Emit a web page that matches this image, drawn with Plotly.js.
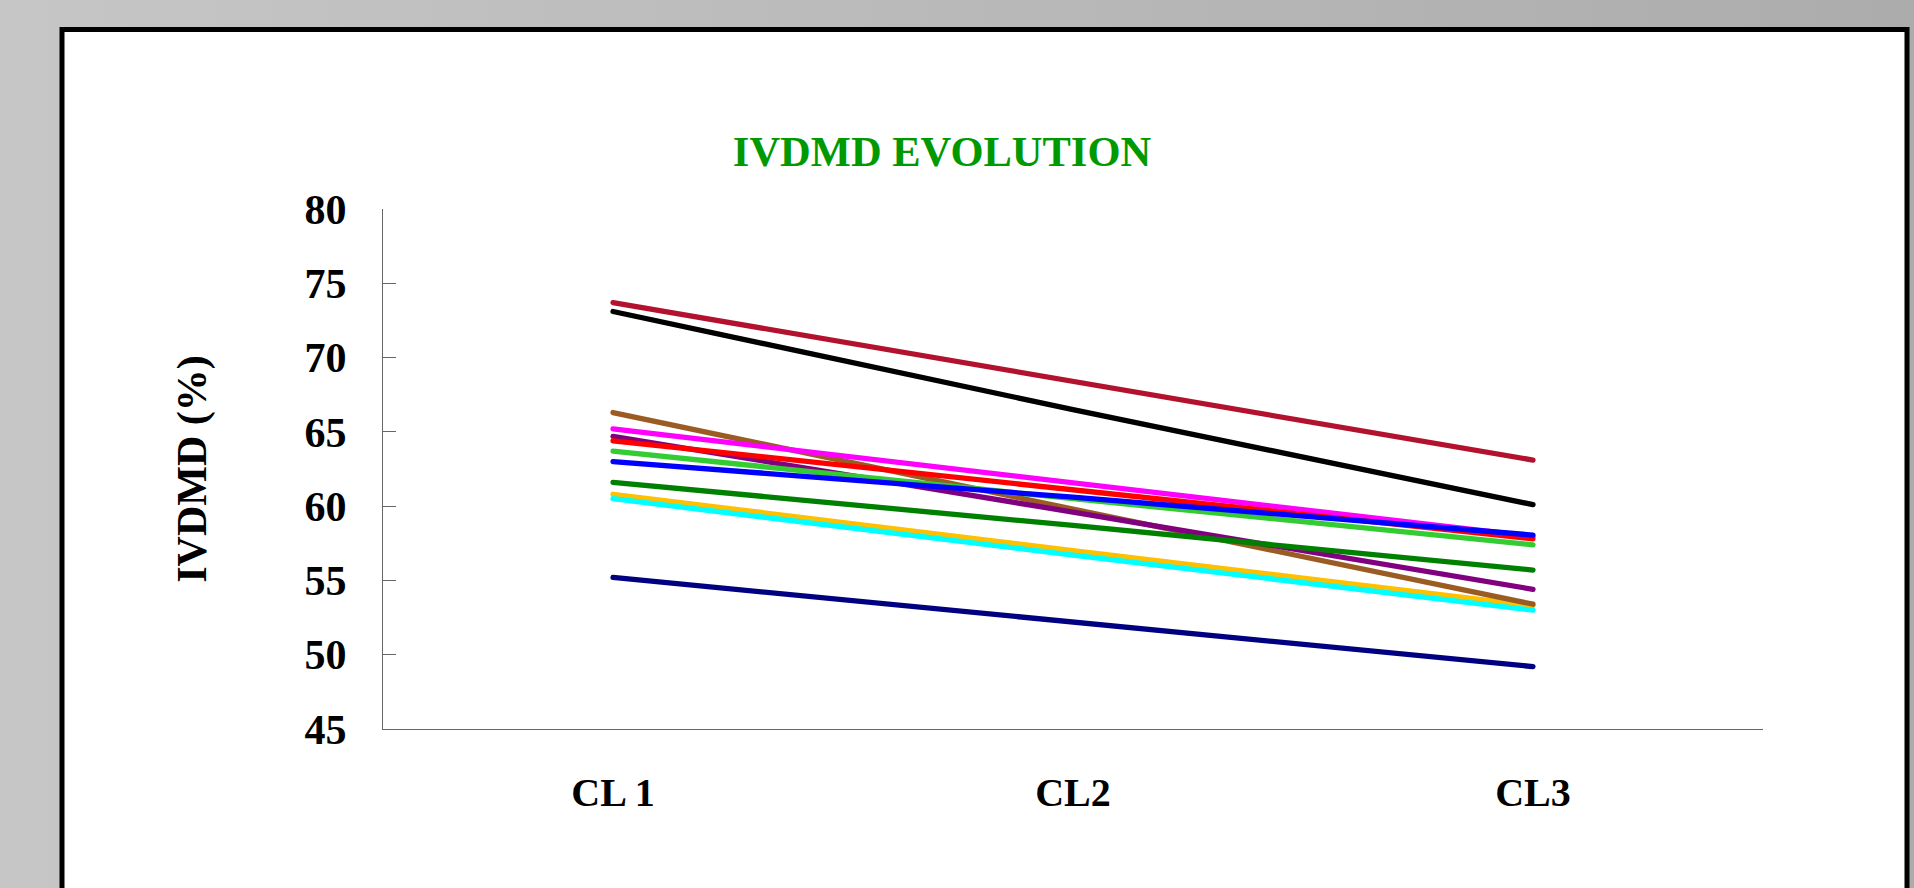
<!DOCTYPE html>
<html>
<head>
<meta charset="utf-8">
<script src="https://cdn.plot.ly/plotly-3.0.1.min.js"></script>
<style>
  html, body { margin: 0; padding: 0; }
  body { width: 1914px; height: 888px; overflow: hidden;
         background: linear-gradient(to right, #c6c6c6, #acacac); }
  #chart { width: 1914px; height: 888px; }
  #chart path.js-line { stroke-linecap: round; }
</style>
</head>
<body>
<div id="chart"></div>
<script>
// Categories (x axis)
const categories = ["CL 1", "CL2", "CL3"];

// Series values (IVDMD %), drawn bottom-to-top in this order
const seriesOrange    = [60.8, 57.0, 53.3];
const seriesCyan      = [60.5, 56.7, 53.0];
const seriesBrown     = [66.3, 59.8, 53.4];
const seriesPurple    = [64.7, 59.6, 54.4];
const seriesMagenta   = [65.2, 61.6, 57.95];
const seriesRed       = [64.4, 61.1, 57.8];
const seriesLimeGreen = [63.7, 60.5, 57.4];
const seriesBlue      = [63.0, 60.6, 58.05];
const seriesGreen     = [61.6, 58.7, 55.7];
const seriesNavy      = [55.2, 52.2, 49.2];
const seriesBlack     = [73.1, 66.5, 60.1];
const seriesCrimson   = [73.7, 68.4, 63.1];

const yTickValues = [45, 50, 55, 60, 65, 70, 75, 80];

const series = [
  {name: "Orange",     y: seriesOrange,    color: "#FFC000"},
  {name: "Cyan",       y: seriesCyan,      color: "#00FFFF"},
  {name: "Brown",      y: seriesBrown,     color: "#9A5C22"},
  {name: "Purple",     y: seriesPurple,    color: "#800080"},
  {name: "Magenta",    y: seriesMagenta,   color: "#FF00FF"},
  {name: "Red",        y: seriesRed,       color: "#FF0000"},
  {name: "Lime green", y: seriesLimeGreen, color: "#33CC33"},
  {name: "Blue",       y: seriesBlue,      color: "#0000FF"},
  {name: "Green",      y: seriesGreen,     color: "#008000"},
  {name: "Navy",       y: seriesNavy,      color: "#000080"},
  {name: "Black",      y: seriesBlack,     color: "#000000"},
  {name: "Crimson",    y: seriesCrimson,   color: "#B3122E"}
];

const traces = series.map(s => ({
  type: "scatter",
  mode: "lines",
  name: s.name,
  x: categories,
  y: s.y,
  line: {color: s.color, width: 5.3},
  showlegend: false,
  hoverinfo: "x+y+name"
}));

const FONT = "'Liberation Serif', 'Times New Roman', Times, serif";

// plot area geometry (pixels) used to place the frame in paper units
const L = 383, R = 151, T = 209, B = 159, W = 1914, H = 888;
const pw = W - L - R, ph = H - T - B;
const px = v => (v - L) / pw;
const py = v => (H - B - v) / ph;

const layout = {
  width: W, height: H,
  margin: {l: L, r: R, t: T, b: B, pad: 0},
  paper_bgcolor: "rgba(0,0,0,0)",
  plot_bgcolor: "rgba(0,0,0,0)",
  font: {family: FONT, size: 42, color: "#000"},
  title: {
    text: "<b>IVDMD EVOLUTION</b>",
    font: {family: FONT, size: 42.5, color: "#009900"},
    x: 942 / W, xref: "container", xanchor: "center",
    y: 1 - 151 / H, yref: "container", yanchor: "middle"
  },
  xaxis: {
    type: "category",
    range: [-0.5, 2.5],
    showgrid: false, zeroline: false,
    showline: true, linecolor: "#666", linewidth: 1,
    ticks: "",
    tickfont: {family: FONT, size: 40, color: "#000", weight: "bold"},
    ticklabelstandoff: 28,
    fixedrange: true
  },
  yaxis: {
    range: [45, 80],
    tickvals: yTickValues,
    showgrid: false, zeroline: false,
    showline: true, linecolor: "#666", linewidth: 1,
    ticks: "inside", ticklen: 13, tickcolor: "#666", tickwidth: 1,
    tickfont: {family: FONT, size: 42, color: "#000", weight: "bold"},
    ticklabelstandoff: 27,
    title: {
      text: "<b>IVDMD (%)</b>",
      font: {family: FONT, size: 42, color: "#000"},
      standoff: 84
    },
    fixedrange: true
  },
  shapes: [{
    type: "rect", xref: "paper", yref: "paper", layer: "below",
    x0: px(62), x1: px(1907), y0: py(29.5), y1: py(905),
    line: {color: "#000", width: 5},
    fillcolor: "#ffffff"
  }]
};

Plotly.newPlot("chart", traces, layout, {displayModeBar: false, staticPlot: true});
</script>
</body>
</html>
